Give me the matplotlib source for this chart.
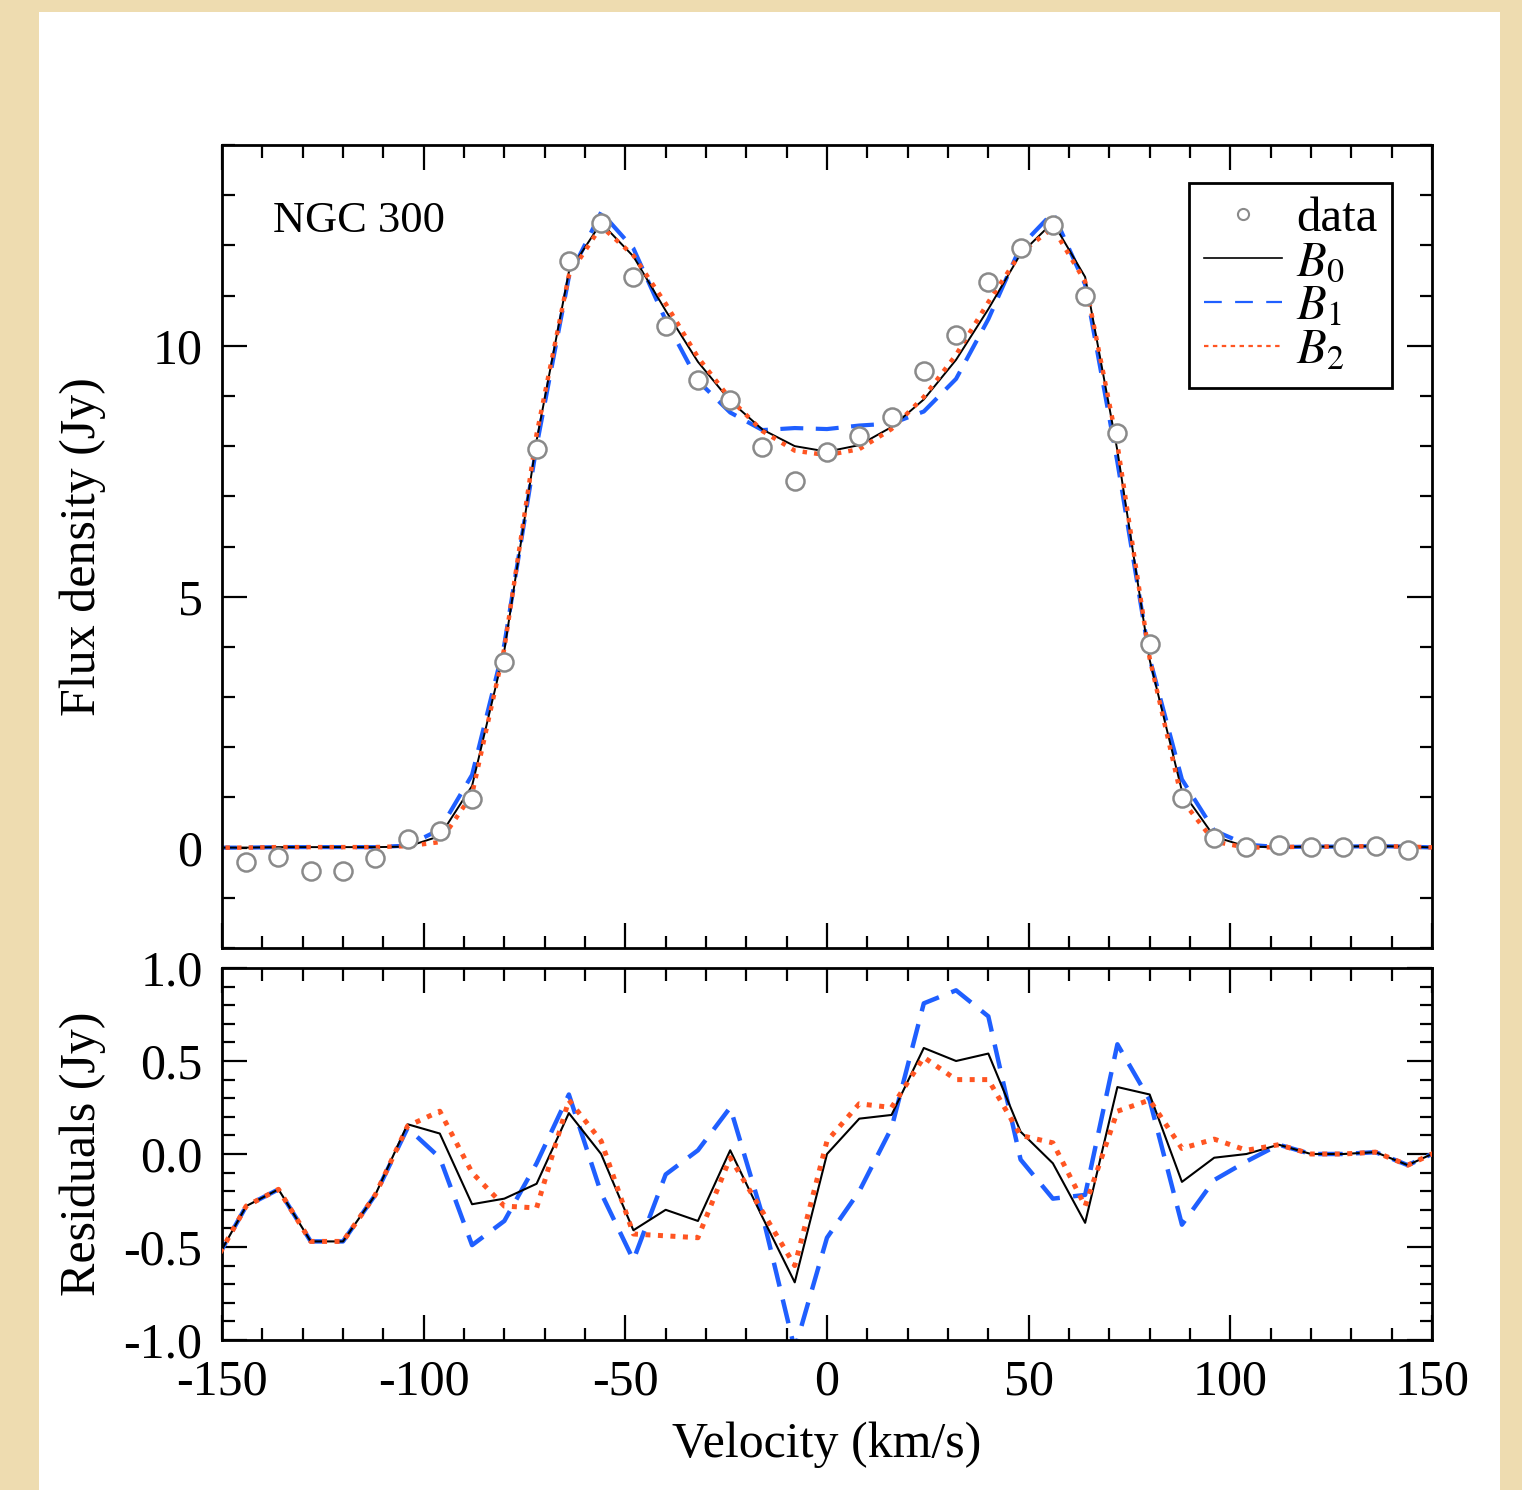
import numpy as np
import matplotlib
matplotlib.use('Agg')
import matplotlib.pyplot as plt
from matplotlib.lines import Line2D
from matplotlib.patches import Rectangle
from matplotlib.ticker import MultipleLocator

plt.rcParams['font.family'] = ['Liberation Serif', 'DejaVu Serif']
plt.rcParams['mathtext.fontset'] = 'stix'
plt.rcParams['axes.unicode_minus'] = False

# velocity channels (km/s), 8 km/s apart
velocity = np.arange(-152, 153, 8)

# measured flux density (Jy)
flux = [-0.59, -0.28, -0.18, -0.46, -0.46, -0.21, 0.18, 0.34, 0.96, 3.69,
        7.95, 11.69, 12.45, 11.37, 10.40, 9.32, 8.92, 7.99, 7.31, 7.89,
        8.21, 8.59, 9.50, 10.22, 11.27, 11.95, 12.41, 11.00, 8.27, 4.06,
        0.98, 0.20, 0.02, 0.06, 0.02, 0.02, 0.04, -0.04, 0.02]

# residuals data - model (Jy)
res_b0 = [-0.59, -0.28, -0.19, -0.47, -0.47, -0.22, 0.16, 0.11, -0.27, -0.24,
          -0.16, 0.22, 0.00, -0.41, -0.30, -0.36, 0.02, -0.34, -0.69, 0.00,
          0.19, 0.21, 0.57, 0.50, 0.54, 0.12, -0.05, -0.37, 0.36, 0.32,
          -0.15, -0.02, 0.00, 0.05, 0.00, 0.00, 0.01, -0.06, 0.02]
res_b1 = [-0.59, -0.28, -0.19, -0.47, -0.47, -0.22, 0.14, -0.02, -0.49, -0.36,
          -0.05, 0.32, -0.21, -0.57, -0.11, 0.02, 0.25, -0.33, -1.05, -0.45,
          -0.20, 0.14, 0.81, 0.88, 0.74, -0.03, -0.24, -0.22, 0.59, 0.29,
          -0.38, -0.14, -0.04, 0.05, 0.00, 0.00, 0.01, -0.06, 0.02]
res_b2 = [-0.59, -0.28, -0.19, -0.47, -0.47, -0.22, 0.15, 0.23, -0.10, -0.28,
          -0.29, 0.29, 0.07, -0.43, -0.44, -0.45, -0.02, -0.31, -0.60, 0.07,
          0.27, 0.25, 0.52, 0.40, 0.40, 0.10, 0.06, -0.28, 0.23, 0.29,
          0.03, 0.08, 0.02, 0.05, 0.00, 0.00, 0.01, -0.06, 0.02]

flux = np.array(flux)
model_b0 = flux - np.array(res_b0)
model_b1 = flux - np.array(res_b1)
model_b2 = flux - np.array(res_b2)

black = 'black'
blue = '#1f5fff'
orange = '#ff5522'
grey = '#8a8a8a'

fig = plt.figure(figsize=(15.22, 14.90), dpi=100, facecolor='#eedcb0')
fig.patches.append(Rectangle((39 / 1522, 0), (1500 - 39) / 1522, 1 - 12 / 1490,
                             transform=fig.transFigure, facecolor='white',
                             edgecolor='none', zorder=-10))

ax1 = fig.add_axes([222 / 1522, 1 - 948 / 1490, 1210 / 1522, 803 / 1490])
ax2 = fig.add_axes([222 / 1522, 1 - 1340 / 1490, 1210 / 1522, 372 / 1490])

inside = np.abs(velocity) < 150

ax1.plot(velocity, model_b0, color=black, lw=1.4, zorder=3)
ax1.plot(velocity, model_b1, color=blue, lw=3.0, dashes=(5.5, 3), zorder=2)
ax1.plot(velocity, model_b2, color=orange, lw=3.2, linestyle=(0, (1, 1.6)), zorder=4)
ax1.plot(velocity[inside], flux[inside], 'o', ms=13, mfc='white', mec=grey,
         mew=1.8, zorder=5)

ax2.plot(velocity, res_b0, color=black, lw=1.5, zorder=3)
ax2.plot(velocity, res_b1, color=blue, lw=3.2, dashes=(5.5, 3), zorder=2)
ax2.plot(velocity, res_b2, color=orange, lw=3.6, linestyle=(0, (1, 1.5)), zorder=4)

ax1.set_xlim(-150, 150)
ax1.set_ylim(-2, 14)
ax2.set_xlim(-150, 150)
ax2.set_ylim(-1, 1)

for ax in (ax1, ax2):
    ax.xaxis.set_major_locator(MultipleLocator(50))
    ax.xaxis.set_minor_locator(MultipleLocator(10))
    ax.tick_params(which='both', direction='in', top=True, right=True,
                   width=1.6, labelsize=36)
    ax.tick_params(which='major', length=18)
    ax.tick_params(which='minor', length=9)
    ax.tick_params(axis='y', pad=14)
    ax.tick_params(axis='x', pad=14)
    for s in ax.spines.values():
        s.set_linewidth(2)

ax1.yaxis.set_major_locator(MultipleLocator(5))
ax1.yaxis.set_minor_locator(MultipleLocator(1))
ax1.tick_params(labelbottom=False)
ax2.yaxis.set_major_locator(MultipleLocator(0.5))
ax2.yaxis.set_minor_locator(MultipleLocator(0.1))
ax2.set_yticks([-1.0, -0.5, 0.0, 0.5, 1.0])
ax2.set_yticklabels(['-1.0', '-0.5', '0.0', '0.5', '1.0'])

ax1.set_ylabel('Flux density (Jy)', fontsize=36)
ax1.yaxis.set_label_coords(-0.096, 0.5)
ax2.set_ylabel('Residuals (Jy)', fontsize=36)
ax2.yaxis.set_label_coords(-0.096, 0.5)
ax2.set_xlabel('Velocity (km/s)', fontsize=36, labelpad=11)

ax1.text(0.042, 0.905, 'NGC 300', transform=ax1.transAxes, fontsize=32,
         ha='left', va='center')

handles = [
    Line2D([], [], ls='none', marker='o', ms=8, mfc='white', mec=grey, mew=1.5),
    Line2D([], [], color=black, lw=1.2),
    Line2D([], [], color=blue, lw=1.6, dashes=(8, 6)),
    Line2D([], [], color=orange, lw=1.6, linestyle=(0, (2, 2))),
]
labels = ['data', '$B_0$', '$B_1$', '$B_2$']
leg = ax1.legend(handles, labels, loc='upper right', bbox_to_anchor=(0.967, 0.953),
                 borderaxespad=0, fontsize=35, handlelength=1.6, handletextpad=0.3,
                 labelspacing=0.0, borderpad=0.3, fancybox=False, framealpha=1,
                 edgecolor='black')
leg.get_frame().set_linewidth(2)

fig.savefig('out.png', dpi=100, facecolor=fig.get_facecolor())
